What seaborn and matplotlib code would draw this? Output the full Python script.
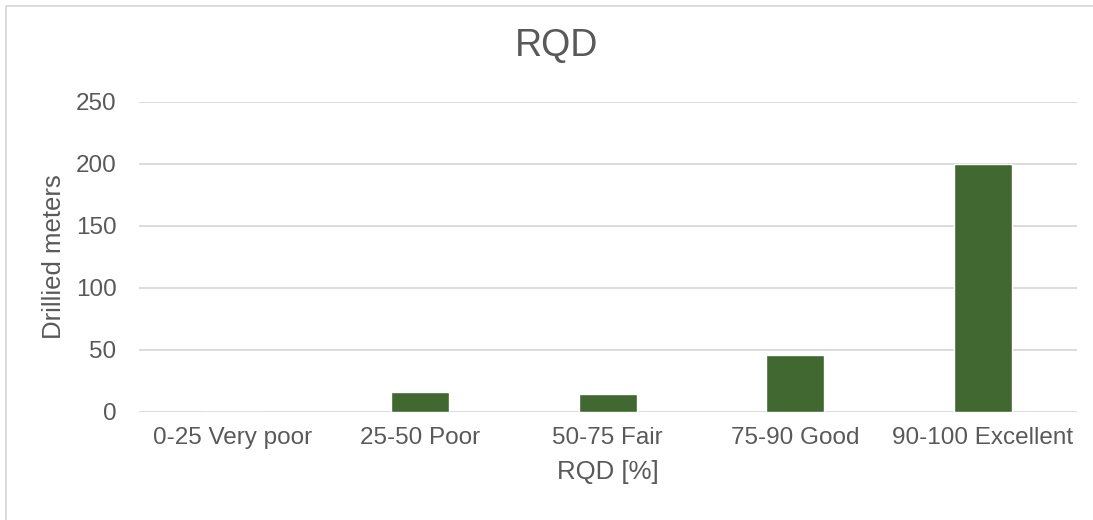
import matplotlib
matplotlib.use("Agg")
import matplotlib.pyplot as plt
from matplotlib.patches import Rectangle
import pandas as pd
import seaborn as sns

# Datos
categorias = ["0-25 Very poor", "25-50 Poor", "50-75 Fair", "75-90 Good", "90-100 Excellent"]
metros = [0, 16, 14, 46, 200]

df = pd.DataFrame({"rqd": categorias, "metros": metros})

sns.set_theme(style="white")
plt.rcParams["font.family"] = ["Liberation Sans", "DejaVu Sans"]

gris = "#595959"
verde = "#406830"

fig = plt.figure(figsize=(10.93, 5.20), dpi=100)
ax = fig.add_axes([0.127, 0.208, 0.858, 0.596])

sns.barplot(data=df, x="rqd", y="metros", color=verde, width=0.31,
            saturation=1, ax=ax, zorder=3)

ax.set_ylim(0, 250)
ax.set_yticks(range(0, 251, 50))
ax.grid(axis="y", color="#D9D9D9", linewidth=1.3, zorder=0)
for s in ax.spines.values():
    s.set_visible(False)
ax.tick_params(axis="both", length=0, labelsize=17.5, labelcolor=gris)
ax.tick_params(axis="y", pad=16)
ax.tick_params(axis="x", pad=11)

ax.set_xlabel("RQD [%]", fontsize=18.5, color=gris, labelpad=8)
ax.set_ylabel("Drillied meters", fontsize=18.5, color=gris, labelpad=7)
fig.suptitle("RQD", fontsize=27, color=gris, x=0.509, y=0.946)

# Borde del area del grafico (solo se ven arriba y a la izquierda)
fig.patches.append(Rectangle((6 / 1093, -0.05), 1.2, 1.05 - 6 / 520,
                             transform=fig.transFigure, fill=False,
                             edgecolor="#D9D9D9", linewidth=1.3))

fig.savefig("out.png", dpi=100)
plt.close(fig)
